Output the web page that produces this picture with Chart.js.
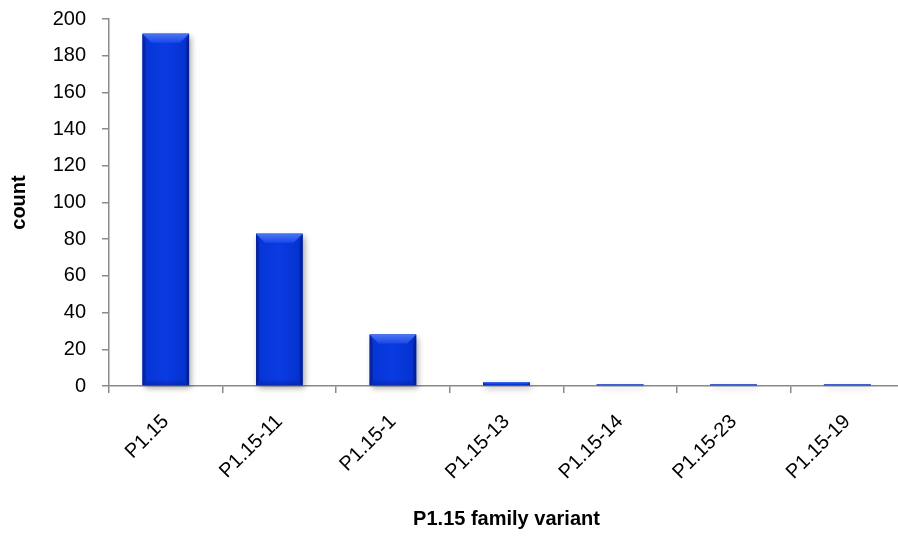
<!DOCTYPE html>
<html>
<head>
<meta charset="utf-8">
<script src="https://cdn.jsdelivr.net/npm/chart.js@4"></script>
<style>
  html, body { margin: 0; padding: 0; background: #fff; overflow: hidden; }
  #wrap { width: 904px; height: 537px; position: relative; }
</style>
</head>
<body>
<div id="wrap"><canvas id="chart"></canvas></div>
<script>
// Variant names along the x axis
const categories = ['P1.15', 'P1.15-11', 'P1.15-1', 'P1.15-13', 'P1.15-14', 'P1.15-23', 'P1.15-19'];
// Number of occurrences per variant
const counts = [192, 83, 28, 2, 1, 1, 1];
// Value axis range and step
const yMin = 0;
const yMax = 200;
const yStep = 20;

const FONT = '"Liberation Sans", Arial, Helvetica, sans-serif';
const AXIS_GREY = '#8a8a8a';

// Soft drop shadow behind the bars
const barShadow = {
  id: 'barShadow',
  beforeDatasetDraw(chart) {
    const ctx = chart.ctx;
    ctx.save();
    ctx.shadowColor = 'rgba(0,0,0,0.35)';
    ctx.shadowBlur = 6;
    ctx.shadowOffsetX = 2;
    ctx.shadowOffsetY = 3;
  },
  afterDatasetDraw(chart) {
    chart.ctx.restore();
  }
};

// Bevelled look on each bar: shaded sides, lighter top face, darker foot
const barBevel = {
  id: 'barBevel',
  afterDatasetsDraw(chart) {
    const ctx = chart.ctx;
    const meta = chart.getDatasetMeta(0);
    meta.data.forEach((bar) => {
      const p = bar.getProps(['x', 'y', 'width', 'base'], true);
      const l = p.x - p.width / 2, r = p.x + p.width / 2;
      const t = p.y, b = p.base;
      const h = b - t;
      if (h <= 0) return;
      ctx.save();
      // horizontal shading across the face
      const g = ctx.createLinearGradient(l, 0, r, 0);
      g.addColorStop(0, '#0a26a8');
      g.addColorStop(0.08, '#0636d6');
      g.addColorStop(0.5, '#0a3be2');
      g.addColorStop(0.92, '#0533d0');
      g.addColorStop(1, '#04229e');
      ctx.fillStyle = g;
      ctx.fillRect(l, t, p.width, h);
      const bev = Math.min(9, h / 2.2, p.width / 4);
      if (bev >= 1) {
        // top face
        const gt = ctx.createLinearGradient(0, t, 0, t + bev);
        gt.addColorStop(0, '#4a74f4');
        gt.addColorStop(1, '#1a48e8');
        ctx.fillStyle = gt;
        ctx.beginPath();
        ctx.moveTo(l, t);
        ctx.lineTo(r, t);
        ctx.lineTo(r - bev, t + bev);
        ctx.lineTo(l + bev, t + bev);
        ctx.closePath();
        ctx.fill();
        // left and right bevel strips
        ctx.fillStyle = 'rgba(0,20,120,0.35)';
        ctx.beginPath();
        ctx.moveTo(l, t);
        ctx.lineTo(l + bev * 0.35, t + bev);
        ctx.lineTo(l + bev * 0.35, b - bev * 0.6);
        ctx.lineTo(l, b);
        ctx.closePath();
        ctx.fill();
        ctx.beginPath();
        ctx.moveTo(r, t);
        ctx.lineTo(r - bev * 0.35, t + bev);
        ctx.lineTo(r - bev * 0.35, b - bev * 0.6);
        ctx.lineTo(r, b);
        ctx.closePath();
        ctx.fill();
        // foot
        const gb = ctx.createLinearGradient(0, b - bev * 0.7, 0, b);
        gb.addColorStop(0, 'rgba(0,25,140,0)');
        gb.addColorStop(1, 'rgba(0,25,140,0.45)');
        ctx.fillStyle = gb;
        ctx.fillRect(l, b - bev * 0.7, p.width, bev * 0.7);
      } else {
        ctx.fillStyle = '#4a68d0';
        ctx.fillRect(l, t, p.width, h);
      }
      ctx.restore();
    });
  }
};

new Chart(document.getElementById('chart'), {
  type: 'bar',
  data: {
    labels: categories,
    datasets: [{
      label: 'count',
      data: counts,
      backgroundColor: '#0a3be2',
      borderWidth: 0,
      barPercentage: 0.41,
      categoryPercentage: 1,
      clip: false
    }]
  },
  options: {
    responsive: true,
    maintainAspectRatio: false,
    animation: false,
    devicePixelRatio: 1,
    layout: { padding: { left: 3, right: 0, top: 19, bottom: 2 } },
    plugins: {
      legend: { display: false },
      tooltip: { enabled: false }
    },
    scales: {
      x: {
        z: 1,
        grid: { display: true, drawOnChartArea: false, drawTicks: true, tickLength: 7, color: AXIS_GREY, lineWidth: 1.5, offset: true },
        border: { display: true, color: AXIS_GREY, width: 1.5 },
        ticks: {
          color: '#000',
          font: { family: FONT, size: 20 },
          minRotation: 45,
          maxRotation: 45,
          autoSkip: false,
          padding: 17
        },
        title: {
          display: true,
          text: 'P1.15 family variant',
          color: '#000',
          font: { family: FONT, size: 20, weight: 'bold' },
          padding: { top: 4, bottom: 4 }
        },
        afterFit(scale) {
          scale.height = 149;
          scale.paddingLeft = 0;
          scale.paddingRight = 0;
        }
      },
      y: {
        z: 1,
        min: yMin,
        max: yMax,
        grid: { display: true, drawOnChartArea: false, drawTicks: true, tickLength: 7, color: AXIS_GREY, lineWidth: 1.5 },
        border: { display: true, color: AXIS_GREY, width: 1.5 },
        ticks: {
          stepSize: yStep,
          color: '#000',
          font: { family: FONT, size: 20 },
          padding: 16
        },
        title: {
          display: true,
          text: 'count',
          color: '#000',
          font: { family: FONT, size: 20, weight: 'bold' },
          padding: { top: 4, bottom: 4 }
        },
        afterFit(scale) {
          scale.width = 106;
          scale.paddingTop = 0;
          scale.paddingBottom = 0;
        }
      }
    }
  },
  plugins: [barShadow, barBevel]
});
</script>
</body>
</html>
